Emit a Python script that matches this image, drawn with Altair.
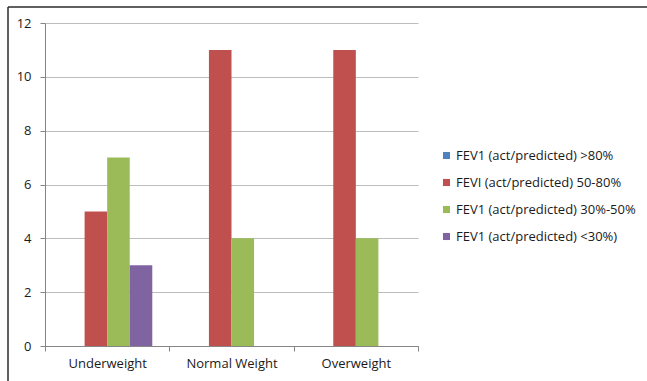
import altair as alt
import pandas as pd

categories = ["Underweight", "Normal Weight", "Overweight"]
series = ["FEV1 (act/predicted) >80%", "FEVI (act/predicted) 50-80%",
          "FEV1 (act/predicted) 30%-50%", "FEV1 (act/predicted) <30%)"]
values_gt80 = [0, 0, 0]
values_50_80 = [5, 11, 11]
values_30_50 = [7, 4, 4]
values_lt30 = [3, 0, 0]
colors = ["#4F81BD", "#C0504D", "#9BBB59", "#8064A2"]

rows = []
for s, vals in zip(series, [values_gt80, values_50_80, values_30_50, values_lt30]):
    for c, v in zip(categories, vals):
        rows.append({"category": c, "series": s, "value": v})
df = pd.DataFrame(rows)

FONT = "Open Sans"
TXT = "#1a1a1a"

bars = alt.Chart(df).mark_bar().encode(
    x=alt.X("category:N", sort=categories, title=None,
            scale=alt.Scale(paddingInner=0, paddingOuter=0),
            axis=alt.Axis(labelAngle=0, tickBand="extent", domainColor="#868686",
                          tickColor="#868686", tickSize=5, labelFontSize=13,
                          labelColor=TXT, labelPadding=6, labelFont=FONT)),
    xOffset=alt.XOffset("series:N", sort=series,
                        scale=alt.Scale(paddingInner=0, paddingOuter=0.755)),
    y=alt.Y("value:Q", title=None,
            scale=alt.Scale(domain=[0, 12]),
            axis=alt.Axis(values=[0, 2, 4, 6, 8, 10, 12], grid=True, gridColor="#BDBDBD",
                          domainColor="#868686", tickColor="#868686", tickSize=5,
                          labelFontSize=13, labelColor=TXT, labelPadding=9,
                          labelFont=FONT)),
    color=alt.Color("series:N", sort=series,
                    scale=alt.Scale(domain=series, range=colors),
                    legend=alt.Legend(title=None, orient="none", legendX=395, legendY=126,
                                      symbolType="square", symbolSize=50, symbolStrokeWidth=0,
                                      labelFontSize=13, labelFont=FONT, labelColor=TXT,
                                      labelLimit=400, rowPadding=13, labelOffset=3)),
)

border_top = alt.Chart(pd.DataFrame({"k": [0]})).mark_rule(color="#2b2b2b", strokeWidth=1.5).encode(
    x=alt.value(-37), x2=alt.value(602), y=alt.value(-16))
border_left = alt.Chart(pd.DataFrame({"k": [0]})).mark_rule(color="#2b2b2b", strokeWidth=1.5).encode(
    x=alt.value(-37), y=alt.value(-16), y2=alt.value(360))

chart = alt.layer(bars, border_top, border_left).properties(
    width=373, height=323,
    autosize=alt.AutoSizeParams(type="none"),
    padding={"left": 45, "top": 23, "right": 229, "bottom": 35},
    background="white",
).configure_view(stroke=None)

chart.save("out.html", embed_options={"renderer": "svg", "actions": False})
